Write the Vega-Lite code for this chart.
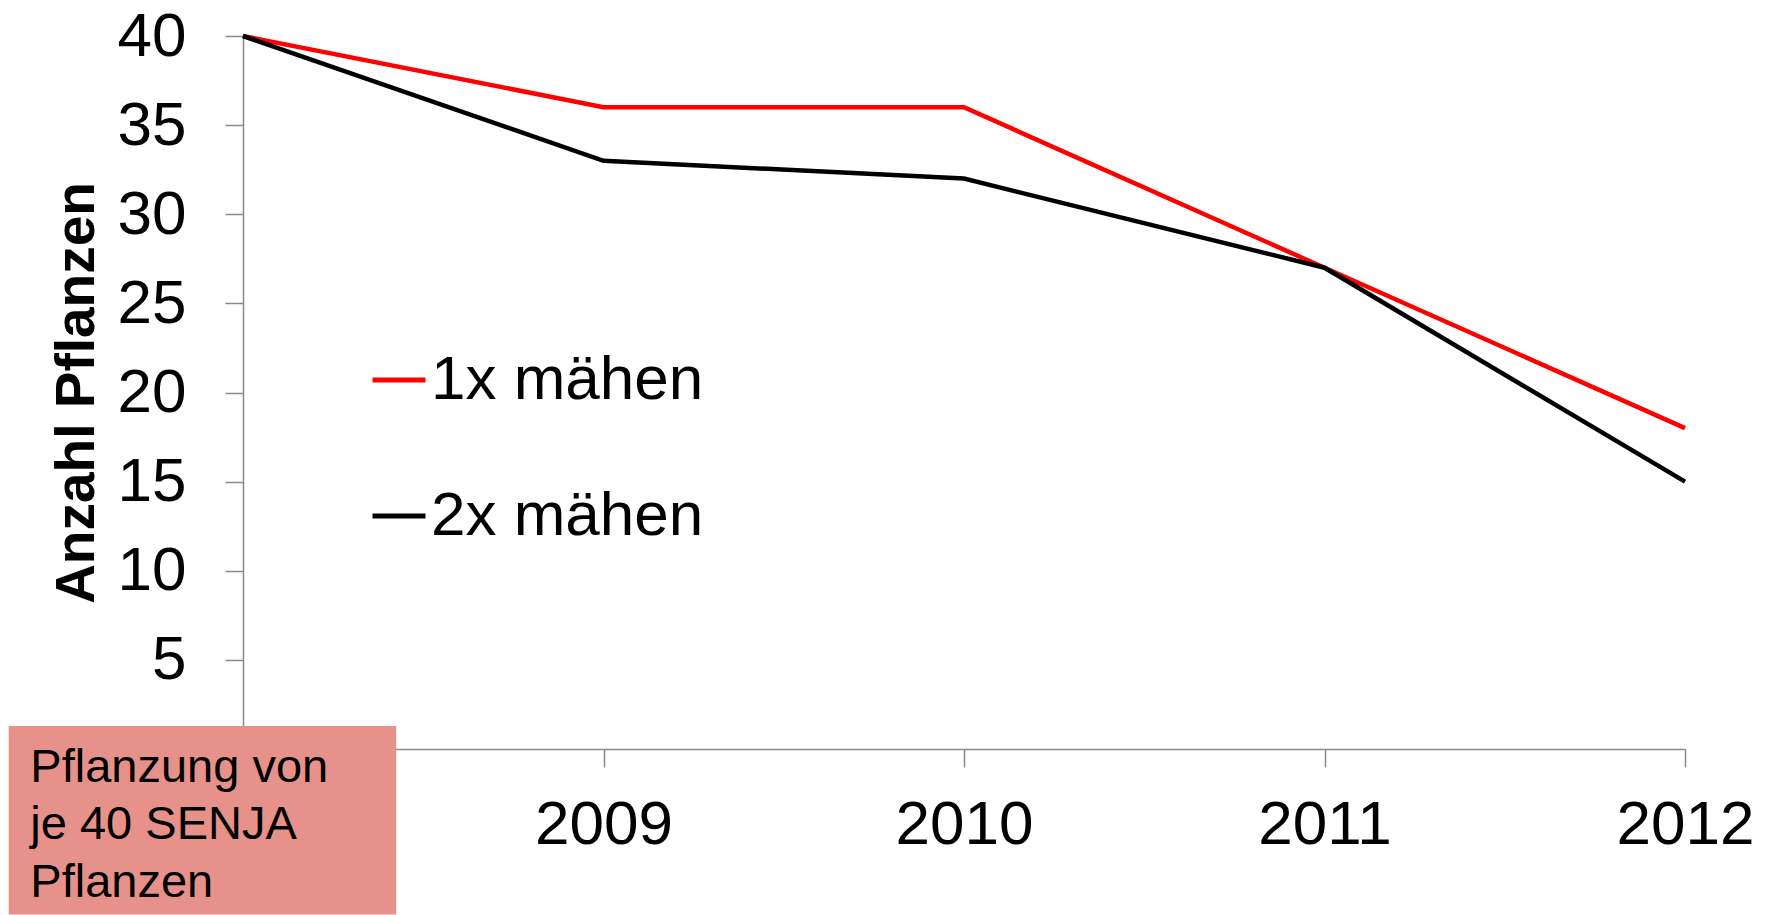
{
  "$schema": "https://vega.github.io/schema/vega-lite/v6.json",
  "width": 1442,
  "height": 713,
  "autosize": {"type": "none"},
  "padding": {"left": 243, "top": 36, "right": 89, "bottom": 166},
  "background": "white",
  "config": {
    "view": {"stroke": null},
    "font": "Liberation Sans",
    "axis": {
      "grid": false,
      "domainColor": "#898989",
      "domainWidth": 1.5,
      "tickColor": "#898989",
      "tickWidth": 1.5,
      "tickSize": 18,
      "labelFont": "Liberation Sans",
      "labelFontSize": 62,
      "labelColor": "#000000",
      "titleFont": "Liberation Sans",
      "titleColor": "#000000"
    }
  },
  "datasets": {
    "series": [
      {"jahr": 2008, "serie": "1x mähen", "anzahl": 40},
      {"jahr": 2009, "serie": "1x mähen", "anzahl": 36},
      {"jahr": 2010, "serie": "1x mähen", "anzahl": 36},
      {"jahr": 2011, "serie": "1x mähen", "anzahl": 27},
      {"jahr": 2012, "serie": "1x mähen", "anzahl": 18},
      {"jahr": 2008, "serie": "2x mähen", "anzahl": 40},
      {"jahr": 2009, "serie": "2x mähen", "anzahl": 33},
      {"jahr": 2010, "serie": "2x mähen", "anzahl": 32},
      {"jahr": 2011, "serie": "2x mähen", "anzahl": 27},
      {"jahr": 2012, "serie": "2x mähen", "anzahl": 15}
    ],
    "box": [
      {"x1": 2007.35, "x2": 2008.425, "y1": 1.29, "y2": -9.28}
    ],
    "note": [
      {"x": 2007.41, "y": -1.85, "text": ["Pflanzung von", "je 40 SENJA", "Pflanzen"]}
    ]
  },
  "layer": [
    {
      "data": {"name": "series"},
      "mark": {"type": "line", "strokeWidth": 4.5, "clip": false},
      "encoding": {
        "x": {
          "field": "jahr",
          "type": "quantitative",
          "scale": {"domain": [2008, 2012], "nice": false, "zero": false},
          "axis": {
            "title": null,
            "values": [2008, 2009, 2010, 2011, 2012],
            "labelExpr": "datum.value == 2008 ? '' : format(datum.value, 'd')",
            "labelPadding": 27,
            "labelFlush": false,
            "labelOverlap": false
          }
        },
        "y": {
          "field": "anzahl",
          "type": "quantitative",
          "scale": {"domain": [0, 40], "nice": false, "zero": true},
          "axis": {
            "title": "Anzahl Pflanzen",
            "titleFontSize": 55,
            "titleFontWeight": "bold",
            "titlePadding": 12,
            "values": [0, 5, 10, 15, 20, 25, 30, 35, 40],
            "labelPadding": 39,
            "labelFlush": false,
            "labelOverlap": false
          }
        },
        "color": {
          "field": "serie",
          "type": "nominal",
          "scale": {"domain": ["1x mähen", "2x mähen"], "range": ["#FF0000", "#000000"]},
          "legend": {
            "title": null,
            "orient": "none",
            "legendX": 125,
            "legendY": 313,
            "padding": 0,
            "symbolType": "stroke",
            "symbolSize": 2809,
            "symbolStrokeWidth": 5,
            "labelFont": "Liberation Sans",
            "labelFontSize": 62,
            "labelColor": "#000000",
            "labelOffset": 1,
            "rowPadding": 74,
            "labelLimit": 600
          }
        }
      }
    },
    {
      "data": {"name": "box"},
      "mark": {"type": "rect", "color": "#E6918A", "clip": false},
      "encoding": {
        "x": {"field": "x1", "type": "quantitative"},
        "x2": {"field": "x2"},
        "y": {"field": "y1", "type": "quantitative"},
        "y2": {"field": "y2"}
      }
    },
    {
      "data": {"name": "note"},
      "mark": {
        "type": "text",
        "align": "left",
        "baseline": "alphabetic",
        "fontSize": 47,
        "lineHeight": 57.5,
        "font": "Liberation Sans",
        "color": "#000000",
        "clip": false
      },
      "encoding": {
        "x": {"field": "x", "type": "quantitative"},
        "y": {"field": "y", "type": "quantitative"},
        "text": {"field": "text"}
      }
    }
  ]
}
